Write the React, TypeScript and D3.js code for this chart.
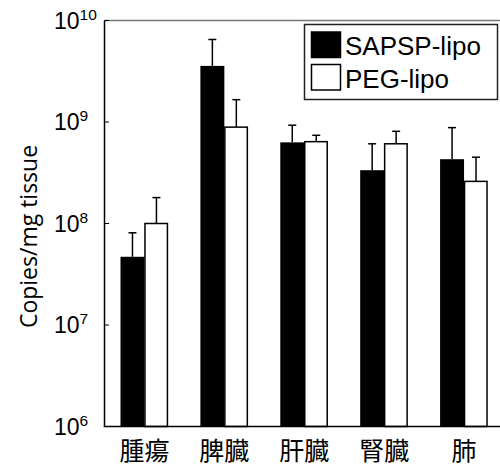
import { useEffect, useRef } from "react";
import * as d3 from "d3";

const organs = ["腫瘍", "脾臓", "肝臓", "腎臓", "肺"];
const series = ["SAPSP-lipo", "PEG-lipo"];
const sapspMean = [4.7e7, 3.57e9, 6.3e8, 3.35e8, 4.3e8];
const sapspUpper = [8.1e7, 6.5e9, 9.3e8, 6.1e8, 8.8e8];
const pegMean = [1.0e8, 8.9e8, 6.4e8, 6.1e8, 2.6e8];
const pegUpper = [1.8e8, 1.66e9, 7.4e8, 8.1e8, 4.5e8];
const yTicks = [6, 7, 8, 9, 10];

const App = () => {
  const ref = useRef<SVGSVGElement>(null);

  useEffect(() => {
    const svg = d3.select(ref.current);
    svg.selectAll("*").remove();

    const left = 104.5, right = 504, top = 20.5, bottom = 426.5;

    const x = d3.scaleBand().domain(organs).range([left, right]).paddingInner(0.4).paddingOuter(0.2);
    const xs = d3.scaleBand().domain(series).range([0, x.bandwidth()]);
    const y = d3.scaleLog().domain([1e6, 1e10]).range([bottom, top]);

    const rows = organs.map((o, i) => [
      { organ: o, s: series[0], v: sapspMean[i], e: sapspUpper[i] },
      { organ: o, s: series[1], v: pegMean[i], e: pegUpper[i] },
    ]).flat();

    // error bars (upper only)
    const err = svg.append("g").attr("stroke", "#000").attr("stroke-width", 1.5);
    rows.forEach(d => {
      const cx = x(d.organ)! + xs(d.s)! + xs.bandwidth() / 2;
      err.append("line").attr("x1", cx).attr("x2", cx).attr("y1", y(d.v)).attr("y2", y(d.e));
      err.append("line").attr("x1", cx - 4).attr("x2", cx + 4).attr("y1", y(d.e)).attr("y2", y(d.e));
    });

    // bars
    svg.append("g").selectAll("rect").data(rows).join("rect")
      .attr("x", d => x(d.organ)! + xs(d.s)! + (d.s === series[1] ? 0.5 : 0))
      .attr("width", d => xs.bandwidth() - (d.s === series[1] ? 1.5 : 0))
      .attr("y", d => y(d.v))
      .attr("height", d => bottom - y(d.v))
      .attr("fill", d => d.s === series[0] ? "#000" : "#fff")
      .attr("stroke", "#000")
      .attr("stroke-width", d => d.s === series[0] ? 0 : 1.5);

    // top frame line
    svg.append("line").attr("x1", left).attr("x2", 500).attr("y1", top).attr("y2", top)
      .attr("stroke", "#777").attr("stroke-width", 1.5);

    // y axis
    const yAxis = svg.append("g");
    yAxis.append("line").attr("x1", left).attr("x2", left).attr("y1", top).attr("y2", bottom)
      .attr("stroke", "#000").attr("stroke-width", 1.5);
    yTicks.forEach(p => {
      const ty = y(Math.pow(10, p));
      yAxis.append("line").attr("x1", left).attr("x2", left + 4.5).attr("y1", ty).attr("y2", ty)
        .attr("stroke", "#000").attr("stroke-width", 1);
      const t = yAxis.append("text").attr("x", 54).attr("y", ty + 8)
        .attr("font-family", "'Liberation Sans', Arial, sans-serif").attr("font-size", 23).attr("fill", "#000");
      t.append("tspan").text("10");
      t.append("tspan").attr("dy", -9).attr("font-size", 15.5).text(String(p));
    });

    // x axis
    svg.append("line").attr("x1", left - 0.75).attr("x2", 500).attr("y1", bottom).attr("y2", bottom)
      .attr("stroke", "#000").attr("stroke-width", 1.5);
    svg.append("g").selectAll("text").data(organs).join("text")
      .attr("x", d => x(d)! + x.bandwidth() / 2)
      .attr("y", 460)
      .attr("text-anchor", "middle")
      .attr("font-family", "'Noto Sans CJK JP', sans-serif")
      .attr("font-size", 25)
      .attr("fill", "#000")
      .text(d => d);

    // y label
    svg.append("text")
      .attr("transform", "translate(36.5,236.5) rotate(-90)")
      .attr("text-anchor", "middle")
      .attr("font-family", "'Open Sans', sans-serif")
      .attr("font-size", 23)
      .attr("fill", "#000")
      .text("Copies/mg tissue");

    // legend
    const lg = svg.append("g");
    lg.append("rect").attr("x", 304.5).attr("y", 24.5).attr("width", 193).attr("height", 75)
      .attr("fill", "#fff").attr("stroke", "#222").attr("stroke-width", 1.5);
    series.forEach((s, i) => {
      const ry = 32 + i * 32.5;
      lg.append("rect").attr("x", 311.5).attr("y", ry).attr("width", 29).attr("height", 25.5)
        .attr("fill", i === 0 ? "#000" : "#fff").attr("stroke", "#000").attr("stroke-width", 1.5);
      lg.append("text").attr("x", 345).attr("y", ry + 23)
        .attr("font-family", "'Liberation Sans', Arial, sans-serif").attr("font-size", 26)
        .attr("fill", "#000").text(s);
    });
  }, []);

  return (
    <svg ref={ref} width={500} height={470} style={{ position: "absolute", left: 0, top: 0, background: "#fff" }} />
  );
};

export default App;
